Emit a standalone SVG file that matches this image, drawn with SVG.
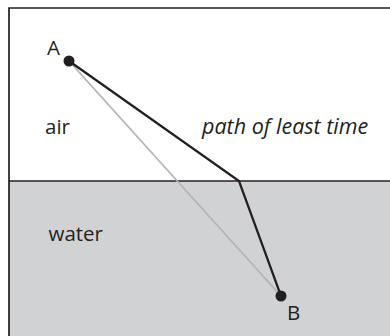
<svg xmlns="http://www.w3.org/2000/svg" width="390" height="336" viewBox="0 0 390 336">
  <style>
    .lbl { font-family: "Open Sans", "Liberation Sans", sans-serif; font-size: 20.5px; fill: #231f20; }
    .it { font-style: italic; font-size: 21.5px; }
    .frame { stroke: #231f20; stroke-width: 1.7; fill: none; }
    .path { stroke: #231f20; stroke-width: 2.2; fill: none; stroke-linejoin: miter; }
    .direct { stroke: #b3b4b6; stroke-width: 1.8; fill: none; }
    .dot { fill: #231f20; }
  </style>
  <rect x="0" y="0" width="390" height="336" fill="#ffffff"/>
  <g id="water-region">
    <rect x="9" y="181" width="381" height="155" fill="#d1d2d4"/>
  </g>
  <g id="frame">
    <path class="frame" d="M390 8 H9 V336"/>
    <line class="frame" x1="9" y1="181" x2="390" y2="181"/>
  </g>
  <g id="region-labels">
    <text class="lbl" x="45" y="134">air</text>
    <text class="lbl" x="48.5" y="241">water</text>
  </g>
  <g id="connectors">
    <line class="direct" x1="69" y1="61" x2="281" y2="296"/>
    <polyline class="path" points="69,61 239,181 281,296"/>
    <text class="lbl it" x="202" y="134">path of least time</text>
  </g>
  <g id="node-A">
    <circle class="dot" cx="69" cy="61" r="5.5"/>
    <text class="lbl" x="47" y="54.5">A</text>
  </g>
  <g id="node-B">
    <circle class="dot" cx="281" cy="296" r="5.5"/>
    <text class="lbl" x="287" y="320">B</text>
  </g>
</svg>
